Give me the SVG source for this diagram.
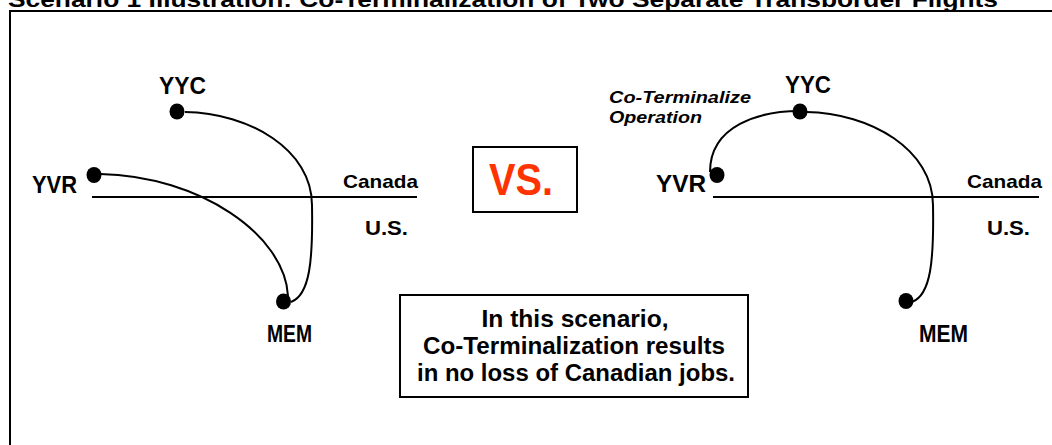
<svg xmlns="http://www.w3.org/2000/svg" width="1052" height="445" viewBox="0 0 1052 445">
<style>
  text { font-family: "Liberation Sans", Arial, sans-serif; font-weight: bold; fill: #000; }
  .lbl { font-size: 23px; }
  .reg { font-size: 19px; }
  .us { font-size: 21px; }
  .note { font-size: 23px; }
  .it { font-size: 17px; font-style: italic; }
  .vs { font-size: 44px; fill: #FF3300; }
  .line { stroke: #000; stroke-width: 2; fill: none; }
  .route { stroke: #000; stroke-width: 2; fill: none; }
  .dot { fill: #000; }
  .box { fill: #fff; stroke: #000; stroke-width: 2; }
</style>
<rect width="1052" height="445" fill="#fff"/>
<text x="8" y="7" font-size="22" textLength="990" lengthAdjust="spacingAndGlyphs">Scenario 1 Illustration: Co-Terminalization of Two Separate Transborder Flights</text>
<path d="M10,450 V11 H1060" stroke="#000" stroke-width="2" fill="none"/>

<g id="borders">
  <line class="line" x1="92" y1="197" x2="417" y2="197"/>
  <line class="line" x1="713" y1="197" x2="1039" y2="197"/>
  <text class="reg" x="343" y="188" textLength="75" lengthAdjust="spacingAndGlyphs">Canada</text>
  <text class="us" x="365" y="235" textLength="43" lengthAdjust="spacingAndGlyphs">U.S.</text>
  <text class="reg" x="967" y="188" textLength="75" lengthAdjust="spacingAndGlyphs">Canada</text>
  <text class="us" x="987" y="235" textLength="43" lengthAdjust="spacingAndGlyphs">U.S.</text>
</g>

<g id="connectors">
  <path class="route" d="M100,174 C200,176 285,235 288,296"/>
  <path class="route" d="M185,112 C250,113 312,150 312,205 C313,260 310,295 291,302"/>
  <path class="route" d="M710,172 C710,125 760,111 800,111"/>
  <path class="route" d="M806,112 C871,113 933,150 933,205 C934,260 931,295 912,302"/>
</g>

<g id="left-yvr">
  <ellipse class="dot" cx="94" cy="175" rx="7.5" ry="8"/>
  <text class="lbl" x="32" y="193" textLength="45" lengthAdjust="spacingAndGlyphs">YVR</text>
</g>
<g id="left-yyc">
  <ellipse class="dot" cx="177" cy="111.5" rx="7.5" ry="8"/>
  <text class="lbl" x="159" y="94" textLength="47" lengthAdjust="spacingAndGlyphs">YYC</text>
</g>
<g id="left-mem">
  <ellipse class="dot" cx="283.5" cy="301.5" rx="7.5" ry="8"/>
  <text class="lbl" x="267" y="342" textLength="45" lengthAdjust="spacingAndGlyphs">MEM</text>
</g>

<g id="vs">
  <rect class="box" x="473" y="147" width="104" height="65"/>
  <text class="vs" x="489" y="195" textLength="64" lengthAdjust="spacingAndGlyphs">VS.</text>
</g>

<g id="right-yvr">
  <ellipse class="dot" cx="717" cy="175" rx="7.5" ry="8"/>
  <text class="lbl" x="656" y="192" textLength="50" lengthAdjust="spacingAndGlyphs">YVR</text>
</g>
<g id="right-yyc">
  <ellipse class="dot" cx="800" cy="111.5" rx="7.5" ry="8"/>
  <text class="lbl" x="785" y="93" textLength="46" lengthAdjust="spacingAndGlyphs">YYC</text>
</g>
<g id="right-mem">
  <ellipse class="dot" cx="906" cy="301" rx="7.5" ry="8"/>
  <text class="lbl" x="919" y="342" textLength="49" lengthAdjust="spacingAndGlyphs">MEM</text>
</g>
<g id="operation-label">
  <text class="it" x="609" y="103" textLength="142" lengthAdjust="spacingAndGlyphs">Co-Terminalize</text>
  <text class="it" x="609" y="123" textLength="93" lengthAdjust="spacingAndGlyphs">Operation</text>
</g>

<g id="note">
  <rect class="box" x="400" y="295" width="348" height="102"/>
  <text class="note" x="575" y="327" text-anchor="middle" textLength="187" lengthAdjust="spacingAndGlyphs">In this scenario,</text>
  <text class="note" x="574" y="354" text-anchor="middle" textLength="302" lengthAdjust="spacingAndGlyphs">Co-Terminalization results</text>
  <text class="note" x="576" y="381" text-anchor="middle" textLength="318" lengthAdjust="spacingAndGlyphs">in no loss of Canadian jobs.</text>
</g>
</svg>
